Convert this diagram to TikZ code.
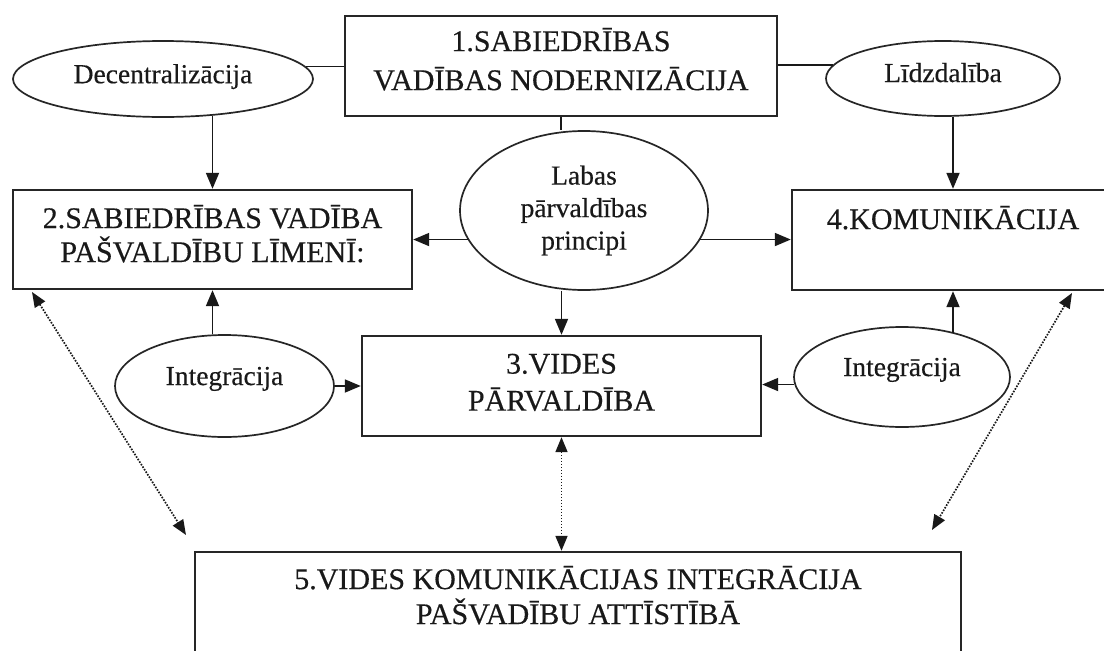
\documentclass[tikz,border=0pt]{standalone}
\usepackage{fontspec}
\setmainfont{Liberation Serif}[FakeBold=0.35]
\usetikzlibrary{shapes.geometric,arrows.meta}
\tikzset{
  boxn/.style={draw=black!85, line width=2.4pt, rectangle, inner sep=0pt},
  elln/.style={draw=black!85, line width=1.7pt, ellipse, inner sep=0pt},
  btext/.style={align=center, inner sep=0pt, text=black!90},
  conn/.style={line width=1.8pt, draw=black!90, -{Triangle[length=16pt,width=13pt]}},
  plainln/.style={line width=1.8pt, draw=black!90},
  dotln/.style={line width=1.7pt, draw=black!90, dash pattern=on 1.6pt off 1.4pt,
    {Triangle[length=15pt,width=12pt]}-{Triangle[length=15pt,width=12pt]}},
}
\begin{document}
\begin{tikzpicture}[x=1pt,y=-1pt]
\path[use as bounding box, fill=white] (0,0) rectangle (1104,651);
\clip (0,0) rectangle (1104,651);

% boxes
\node[boxn, minimum width=432pt, minimum height=100pt,
  label={[btext, name=t1, font=\fontsize{30}{39}\selectfont, yshift=6.8pt]center:{1.SABIEDRĪBAS\\VADĪBAS NODERNIZĀCIJA}}] (b1) at (561,66) {};
\node[boxn, minimum width=399pt, minimum height=99pt,
  label={[btext, name=t2, font=\fontsize{30}{34}\selectfont, yshift=5.8pt]center:{2.SABIEDRĪBAS VADĪBA\\PAŠVALDĪBU LĪMENĪ:}}] (b2) at (212.5,239.5) {};
\node[boxn, minimum width=399pt, minimum height=100pt,
  label={[btext, name=t3, font=\fontsize{30}{37}\selectfont, yshift=3.6pt]center:{3.VIDES\\PĀRVALDĪBA}}] (b3) at (561.5,386) {};
\node[boxn, minimum width=322pt, minimum height=100pt,
  label={[btext, name=t4, font=\fontsize{30}{36}\selectfont, yshift=22.3pt]center:{4.KOMUNIKĀCIJA}}] (b4) at (953,240) {};
\node[boxn, minimum width=766pt, minimum height=118pt,
  label={[btext, name=t5, font=\fontsize{30}{35}\selectfont, yshift=15.8pt]center:{5.VIDES KOMUNIKĀCIJAS INTEGRĀCIJA\\PAŠVADĪBU ATTĪSTĪBĀ}}] (b5) at (578,611) {};

% ellipses
\node[elln, minimum width=300pt, minimum height=76pt,
  label={[btext, name=te1, font=\fontsize{27.5}{32.5}\selectfont, yshift=2.4pt]center:{Decentralizācija}}] (dec) at (163,79) {};
\node[elln, minimum width=234pt, minimum height=75pt,
  label={[btext, name=te2, font=\fontsize{27.5}{32.5}\selectfont, yshift=5.9pt]center:{Līdzdalība}}] (lid) at (943,78.5) {};
\node[elln, minimum width=248pt, minimum height=159pt,
  label={[btext, name=te3, font=\fontsize{27.5}{32.5}\selectfont, yshift=0pt]center:{Labas\\pārvaldības\\principi}}] (lab) at (584,210.5) {};
\node[elln, minimum width=219pt, minimum height=102pt,
  label={[btext, name=te4, font=\fontsize{27.5}{32.5}\selectfont, yshift=7.1pt]center:{Integrācija}}] (il) at (224.5,386) {};
\node[elln, minimum width=216pt, minimum height=100pt,
  label={[btext, name=te5, font=\fontsize{27.5}{32.5}\selectfont, yshift=7.1pt]center:{Integrācija}}] (ir) at (902,377) {};

% plain connectors
\draw[plainln] (dec.5.7) -- (dec.5.7 -| b1.west);
\draw[plainln] (lid.173) -- (lid.173 -| b1.east);
\draw[plainln] (b1.south) -- (lab.north -| b1.south);

% arrows
\draw[conn] (b2.north |- dec.-36) -- (b2.north);
\draw[conn] (b4.north |- lid.-75) -- (b4.north);
\draw[conn] (lab.194.4) -- (lab.194.4 -| b2.east);
\draw[conn] (lab.-14.4) -- (lab.-14.4 -| b4.west);
\draw[conn] (lab.south -| b3.north) -- (b3.north);
\draw[conn] (b2.south |- il.103.3) -- (b2.south);
\draw[conn] (il.east) -- (il.east -| b3.west);
\draw[conn] (b4.south |- ir.40.8) -- (b4.south);
\draw[conn] (ir.184.8) -- (ir.184.8 -| b3.east);

% dotted double arrows
\coordinate (dl1) at (32,292);
\coordinate (dl2) at (186,535);
\coordinate (dr1) at (1072,293);
\coordinate (dr2) at (932,530);
\draw[dotln] (dl1) -- (dl2);
\draw[dotln] (dr1) -- (dr2);
\draw[dotln] (b3.south) -- (b3.south |- b5.north);
\end{tikzpicture}
\end{document}
